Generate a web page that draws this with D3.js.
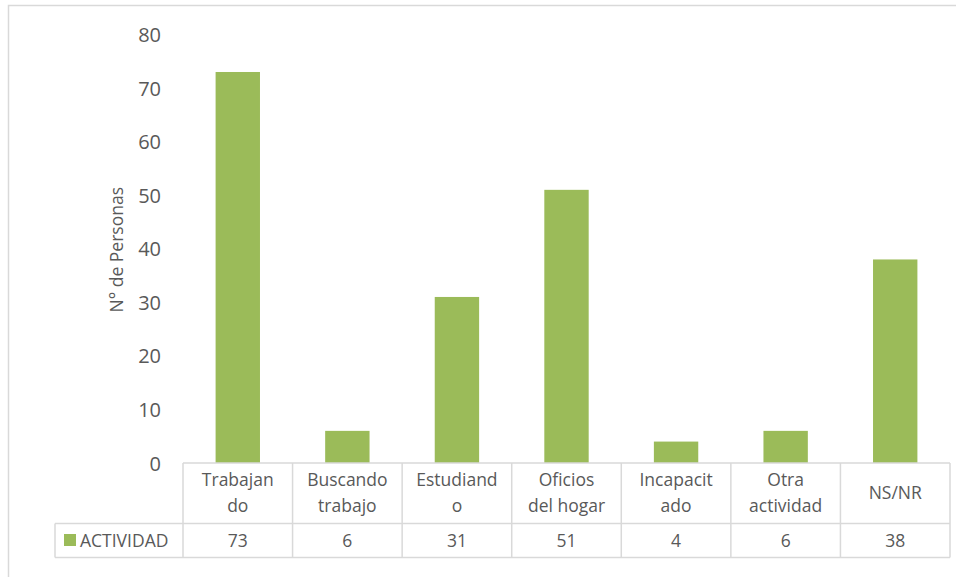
<!DOCTYPE html>
<html>
<head>
<meta charset="utf-8">
<script src="https://cdn.jsdelivr.net/npm/d3@7"></script>
<style>
    body { margin: 0; padding: 0; background: #fff; }
    svg text { font-family: "Open Sans", "Noto Sans", sans-serif; fill: #595959; }
</style>
</head>
<body>
<svg id="chart" width="956" height="577"></svg>
<script>
    // data
    const categories = [["Trabajan", "do"], ["Buscando", "trabajo"], ["Estudiand", "o"], ["Oficios", "del hogar"], ["Incapacit", "ado"], ["Otra", "actividad"], ["NS/NR"]];
    const values = [73, 6, 31, 51, 4, 6, 38];
    const seriesName = "ACTIVIDAD";
    const yTicks = [0, 10, 20, 30, 40, 50, 60, 70, 80];

    const svg = d3.select("#chart");
    const green = "#9bbb59";
    const grid = "#d9d9d9";

    // outer chart border
    svg.append("rect")
        .attr("x", 8.5).attr("y", 5.5)
        .attr("width", 960).attr("height", 600)
        .attr("fill", "none").attr("stroke", grid).attr("stroke-width", 1.5);

    const plotLeft = 183, plotRight = 950, plotTop = 34.5, base = 463;
    const row1 = 523.5, row2 = 557.5, legendLeft = 55;

    const x = d3.scaleBand()
        .domain(d3.range(values.length))
        .range([plotLeft, plotRight])
        .paddingInner(0).paddingOuter(0);

    const y = d3.scaleLinear().domain([0, 80]).range([base, plotTop]);

    // y axis labels only
    const yAxis = d3.axisLeft(y).tickValues(yTicks).tickSize(0).tickPadding(0);
    const ya = svg.append("g").attr("transform", "translate(161,0)").call(yAxis);
    ya.select(".domain").remove();
    ya.selectAll("text")
        .style("font-size", "20px")
        .attr("fill", "#595959")
        .attr("dy", "0.35em");

    svg.append("text")
        .attr("transform", "translate(123," + (y(40) + 1) + ") rotate(-90)")
        .attr("text-anchor", "middle")
        .style("font-size", "17.5px")
        .text("N° de Personas");

    // bars
    const bw = x.bandwidth() * 0.405;
    svg.selectAll("rect.bar")
        .data(values)
        .enter()
        .append("rect")
        .attr("class", "bar")
        .attr("x", (d, i) => x(i) + x.bandwidth() / 2 - bw / 2)
        .attr("y", d => y(d))
        .attr("width", bw)
        .attr("height", d => base - y(d))
        .attr("fill", green);

    // data table
    const t = svg.append("g").attr("stroke", grid).attr("stroke-width", 1.5).attr("fill", "none");
    t.append("line").attr("x1", plotLeft).attr("x2", plotRight).attr("y1", base).attr("y2", base);
    t.append("line").attr("x1", legendLeft).attr("x2", plotRight).attr("y1", row1).attr("y2", row1);
    t.append("line").attr("x1", legendLeft).attr("x2", plotRight).attr("y1", row2).attr("y2", row2);
    t.append("line").attr("x1", legendLeft).attr("x2", legendLeft).attr("y1", row1).attr("y2", row2);
    d3.range(values.length + 1).forEach(i => {
        const xx = i < values.length ? x(i) : plotRight;
        t.append("line").attr("x1", xx).attr("x2", xx).attr("y1", base).attr("y2", row2);
    });

    // category labels
    categories.forEach((lines, i) => {
        const cx = x(i) + x.bandwidth() / 2;
        const mid = (base + row1) / 2;
        const lh = 26;
        const start = mid - (lines.length - 1) * lh / 2;
        lines.forEach((s, j) => {
            svg.append("text")
                .attr("x", cx).attr("y", start + j * lh)
                .attr("dy", "0.35em")
                .attr("text-anchor", "middle")
                .style("font-size", "17.5px")
                .text(s);
        });
    });

    // values row
    values.forEach((v, i) => {
        svg.append("text")
            .attr("x", x(i) + x.bandwidth() / 2).attr("y", (row1 + row2) / 2)
            .attr("dy", "0.35em")
            .attr("text-anchor", "middle")
            .style("font-size", "17.5px")
            .text(v);
    });

    // legend key
    svg.append("rect")
        .attr("x", 64).attr("y", 534).attr("width", 12).attr("height", 12)
        .attr("fill", green);
    svg.append("text")
        .attr("x", 80).attr("y", (row1 + row2) / 2)
        .attr("dy", "0.35em")
        .style("font-size", "17.5px")
        .text(seriesName);
</script>
</body>
</html>
